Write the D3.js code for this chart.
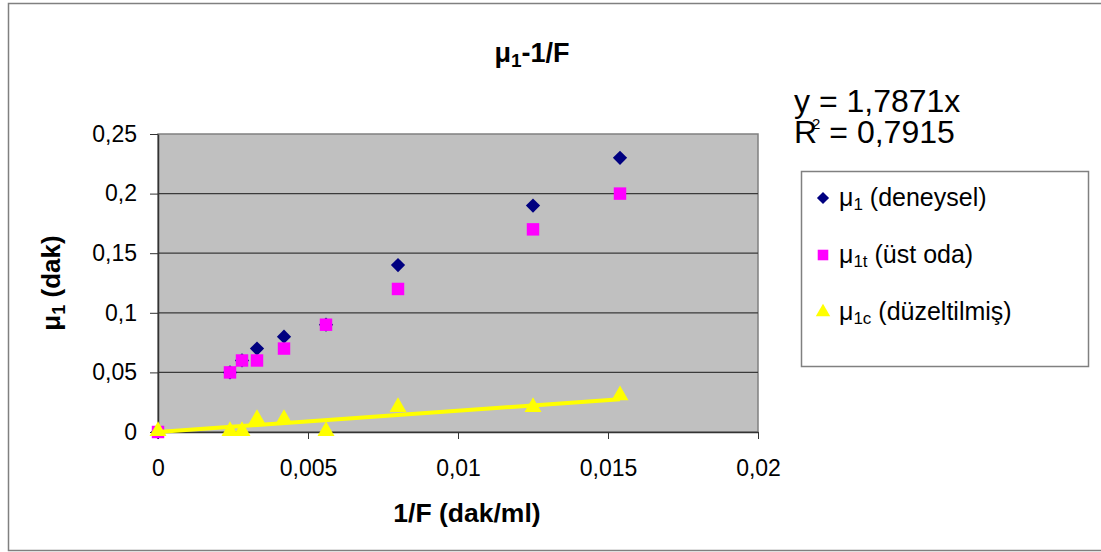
<!DOCTYPE html>
<html>
<head>
<meta charset="utf-8">
<script src="https://cdnjs.cloudflare.com/ajax/libs/d3/7.8.5/d3.min.js"></script>
<style>
  body { margin: 0; background: #fff; }
  svg { font-family: Arial, "Liberation Sans", sans-serif; }
  .axis path, .axis line { stroke: #333; }
  .axis text { font-size: 23px; fill: #000; }
</style>
</head>
<body>
<script>
// data
var invF = [0, 0.0024, 0.0028, 0.0033, 0.0042, 0.0056, 0.008, 0.0125, 0.0154];
var mu1 = [0, 0.05, 0.06, 0.07, 0.08, 0.09, 0.14, 0.19, 0.23];      // deneysel
var mu1t = [0, 0.05, 0.06, 0.06, 0.07, 0.09, 0.12, 0.17, 0.20];     // ust oda
var mu1c = [0, 0, 0, 0.01, 0.01, 0, 0.02, 0.02, 0.03];              // duzeltilmis
var trendSlope = 1.7871;
var trendR2 = "0,7915";

var xTicks = [0, 0.005, 0.01, 0.015, 0.02];
var xTickLabels = ["0", "0,005", "0,01", "0,015", "0,02"];
var yTicks = [0, 0.05, 0.1, 0.15, 0.2, 0.25];
var yTickLabels = ["0", "0,05", "0,1", "0,15", "0,2", "0,25"];

var W = 1101, H = 552;
var margin = {left: 158, top: 134};
var width = 600, height = 298;

var svg = d3.select("body").append("svg").attr("width", W).attr("height", H);

// outer chart frame
svg.append("rect").attr("x", 8.5).attr("y", 3.5).attr("width", W).attr("height", 547)
  .attr("fill", "#fff").attr("stroke", "#808080").attr("stroke-width", 1.5);

var x = d3.scaleLinear().domain([0, 0.02]).range([0, width]);
var y = d3.scaleLinear().domain([0, 0.25]).range([height, 0]);

var g = svg.append("g").attr("transform", "translate(" + margin.left + "," + margin.top + ")");

// plot area
g.append("rect").attr("width", width).attr("height", height)
  .attr("fill", "#c0c0c0").attr("stroke", "#808080").attr("stroke-width", 1.5);

// gridlines
g.selectAll(".grid").data(yTicks.slice(1, -1)).enter().append("line")
  .attr("x1", 0).attr("x2", width)
  .attr("y1", function(d){ return y(d); }).attr("y2", function(d){ return y(d); })
  .attr("stroke", "#3a3a3a").attr("stroke-width", 1.3);

var xAxis = d3.axisBottom(x).tickValues(xTicks)
  .tickFormat(function(d, i){ return xTickLabels[i]; })
  .tickSize(7).tickPadding(21).tickSizeOuter(0);
var yAxis = d3.axisLeft(y).tickValues(yTicks)
  .tickFormat(function(d, i){ return yTickLabels[i]; })
  .tickSize(8).tickPadding(13).tickSizeOuter(0);

g.append("g").attr("class", "x axis").attr("transform", "translate(0," + height + ")").call(xAxis);
g.append("g").attr("class", "y axis").call(yAxis);
g.selectAll(".axis path").attr("stroke-width", 1.5);

// markers
var diamond = d3.symbol().type(d3.symbolDiamond2).size(130);
var square = d3.symbol().type(d3.symbolSquare).size(155);
var triangle = d3.symbol().type(d3.symbolTriangle).size(125);

g.selectAll(".s1").data(invF).enter().append("path")
  .attr("d", diamond)
  .attr("transform", function(d, i){ return "translate(" + x(d) + "," + y(mu1[i]) + ")"; })
  .attr("fill", "#000080");

g.selectAll(".s2").data(invF).enter().append("path")
  .attr("d", square)
  .attr("transform", function(d, i){ return "translate(" + x(d) + "," + y(mu1t[i]) + ")"; })
  .attr("fill", "#ff00ff");

g.selectAll(".s3").data(invF).enter().append("path")
  .attr("d", triangle)
  .attr("transform", function(d, i){ return "translate(" + x(d) + "," + (y(mu1c[i]) - 1) + ")"; })
  .attr("fill", "#ffff00");

// linear trendline through origin for the corrected series
var xExt = d3.extent(invF);
var trend = d3.line().x(function(d){ return x(d); }).y(function(d){ return y(trendSlope * d); });
g.append("path").attr("d", trend(xExt))
  .attr("stroke", "#ffff00").attr("stroke-width", 4).attr("fill", "none");

// title
var title = svg.append("text").attr("x", 532).attr("y", 62).attr("text-anchor", "middle")
  .attr("font-size", 27).attr("font-weight", "bold");
title.append("tspan").text("μ");
title.append("tspan").attr("font-size", 19).attr("dy", 5).text("1");
title.append("tspan").attr("dy", -5).text("-1/F");

// axis titles
svg.append("text").attr("x", 467).attr("y", 522).attr("text-anchor", "middle")
  .attr("font-size", 26.5).attr("font-weight", "bold").text("1/F (dak/ml)");

var yt = svg.append("text").attr("transform", "translate(60," + (margin.top + height / 2) + ") rotate(-90)")
  .attr("text-anchor", "middle").attr("font-size", 26).attr("font-weight", "bold");
yt.append("tspan").text("μ");
yt.append("tspan").attr("font-size", 18).attr("dy", 5).text("1");
yt.append("tspan").attr("dy", -5).text(" (dak)");

// trendline equation (one text block, two lines)
var eq = svg.append("text").attr("x", 794).attr("y", 112).attr("font-size", 32);
eq.append("tspan").text("y = " + String(trendSlope).replace(".", ",") + "x");
eq.append("tspan").attr("x", 794).attr("dy", 31).text("R");
eq.append("tspan").attr("font-size", 15).attr("dx", -5).attr("dy", -14).text("2");
eq.append("tspan").attr("dy", 14).text(" = " + trendR2);

// legend
var legendItems = [
  {name: "μ", sub: "1", rest: " (deneysel)", sym: diamond, color: "#000080"},
  {name: "μ", sub: "1t", rest: " (üst oda)", sym: square, color: "#ff00ff"},
  {name: "μ", sub: "1c", rest: " (düzeltilmiş)", sym: triangle, color: "#ffff00"}
];
var legend = svg.append("g");
legend.append("rect").attr("x", 801.5).attr("y", 171.5).attr("width", 287).attr("height", 195)
  .attr("fill", "#fff").attr("stroke", "#808080").attr("stroke-width", 1.5);
var li = legend.selectAll(".li").data(legendItems).enter().append("g")
  .attr("transform", function(d, i){ return "translate(0," + (198 + i * 57) + ")"; });
li.append("path").attr("d", function(d){ return d.sym(); })
  .attr("transform", "translate(823,0) scale(0.85)")
  .attr("fill", function(d){ return d.color; });
var lt = li.append("text").attr("x", 839).attr("y", 8).attr("font-size", 25);
lt.append("tspan").text(function(d){ return d.name; });
lt.append("tspan").attr("font-size", 17).attr("dy", 4).text(function(d){ return d.sub; });
lt.append("tspan").attr("dy", -4).text(function(d){ return d.rest; });
</script>
</body>
</html>
